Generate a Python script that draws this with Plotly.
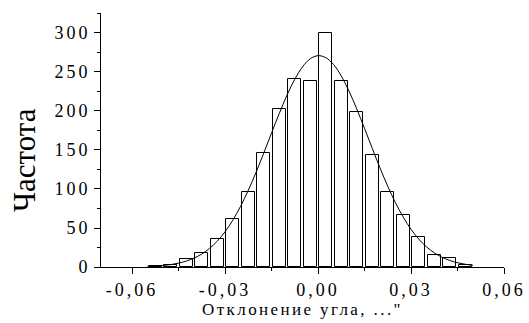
import plotly.graph_objects as go

# Histogram bins (centres) and counts
bin_centers = [-0.0525, -0.0475, -0.0425, -0.0375, -0.0325, -0.0275, -0.0225,
               -0.0175, -0.0125, -0.0075, -0.0025, 0.0025, 0.0075, 0.0125,
               0.0175, 0.0225, 0.0275, 0.0325, 0.0375, 0.0425, 0.0475]
counts = [1.5, 2.5, 10, 17.5, 36, 62, 96, 146, 203, 241, 239, 300, 238, 199,
          144, 96, 67, 38, 15, 12, 3]

# Fitted curve, values
curve_x = [-0.055, -0.0525, -0.05, -0.0475, -0.045, -0.0425, -0.04, -0.0375,
           -0.035, -0.0325, -0.03, -0.0275, -0.025, -0.0225, -0.02, -0.0175,
           -0.015, -0.0125, -0.01, -0.0075, -0.005, -0.0025, 0.0, 0.0025,
           0.005, 0.0075, 0.01, 0.0125, 0.015, 0.0175, 0.02, 0.0225, 0.025,
           0.0275, 0.03, 0.0325, 0.035, 0.0375, 0.04, 0.0425, 0.045, 0.0475, 0.05]
curve_y = [0.7, 1.2, 1.9, 3.1, 4.9, 7.6, 11.4, 16.6, 23.8, 33.1, 45.1, 59.9,
           77.6, 98.2, 121.2, 146.0, 171.6, 196.8, 220.3, 240.6, 256.5, 266.9,
           270.9, 268.4, 259.6, 244.9, 225.5, 202.6, 177.7, 152.1, 127.0, 103.5,
           82.3, 63.9, 48.4, 35.8, 25.8, 18.2, 12.5, 8.4, 5.5, 3.5, 2.2]

x_tick_vals = [-0.06, -0.03, 0.0, 0.03, 0.06]
x_tick_text = ["-0,06", "-0,03", "0,00", "0,03", "0,06"]
y_tick_vals = [0, 50, 100, 150, 200, 250, 300]

x_title = "Отклонение угла, ...\""
y_title = "Частота"

FONT = "Liberation Serif"

fig = go.Figure()
fig.add_trace(go.Bar(
    x=bin_centers, y=counts, width=0.0041,
    marker=dict(color="white", line=dict(color="black", width=1)),
    showlegend=False,
))
fig.add_trace(go.Scatter(
    x=curve_x, y=curve_y, mode="lines",
    line=dict(color="black", width=1, shape="spline"),
    showlegend=False,
))

fig.update_layout(
    width=529, height=323,
    margin=dict(l=101, r=25, t=13, b=56),
    paper_bgcolor="white", plot_bgcolor="white",
    font=dict(family=FONT, color="black", size=18),
    bargap=0,
)
fig.update_xaxes(
    range=[-0.07, 0.06], automargin=False,
    tickmode="array", tickvals=x_tick_vals, ticktext=x_tick_text,
    ticks="outside", ticklen=6, tickwidth=1, tickcolor="black",
    minor=dict(tickmode="linear", tick0=-0.06, dtick=0.015, ticks="outside",
               ticklen=3, tickcolor="black"),
    showline=True, linecolor="black", linewidth=1,
    showgrid=False, zeroline=False,
    tickfont=dict(family=FONT, size=18, color="black"),
    title=dict(text=x_title, font=dict(family=FONT, size=17, color="black"), standoff=4),
)
fig.update_yaxes(
    range=[0, 325.6], automargin=False,
    tickmode="array", tickvals=y_tick_vals,
    ticks="outside", ticklen=6, tickwidth=1, tickcolor="black",
    minor=dict(tickmode="linear", tick0=0, dtick=25, ticks="outside",
               ticklen=3, tickcolor="black"),
    showline=True, linecolor="black", linewidth=1,
    showgrid=False, zeroline=False,
    tickfont=dict(family=FONT, size=18, color="black"),
)
fig.add_annotation(
    text=y_title, textangle=-90, showarrow=False,
    xref="paper", yref="paper", x=0, y=0.421,
    xanchor="center", yanchor="middle", xshift=-77,
    font=dict(family=FONT, size=31, color="black"),
)

post = """
document.querySelectorAll('.xtick text, .ytick text').forEach(function(t){t.setAttribute('letter-spacing','3px');});
document.querySelectorAll('.g-xtitle text').forEach(function(t){t.setAttribute('letter-spacing','2.4px');});
"""
fig.write_html("out.html", post_script=post)
